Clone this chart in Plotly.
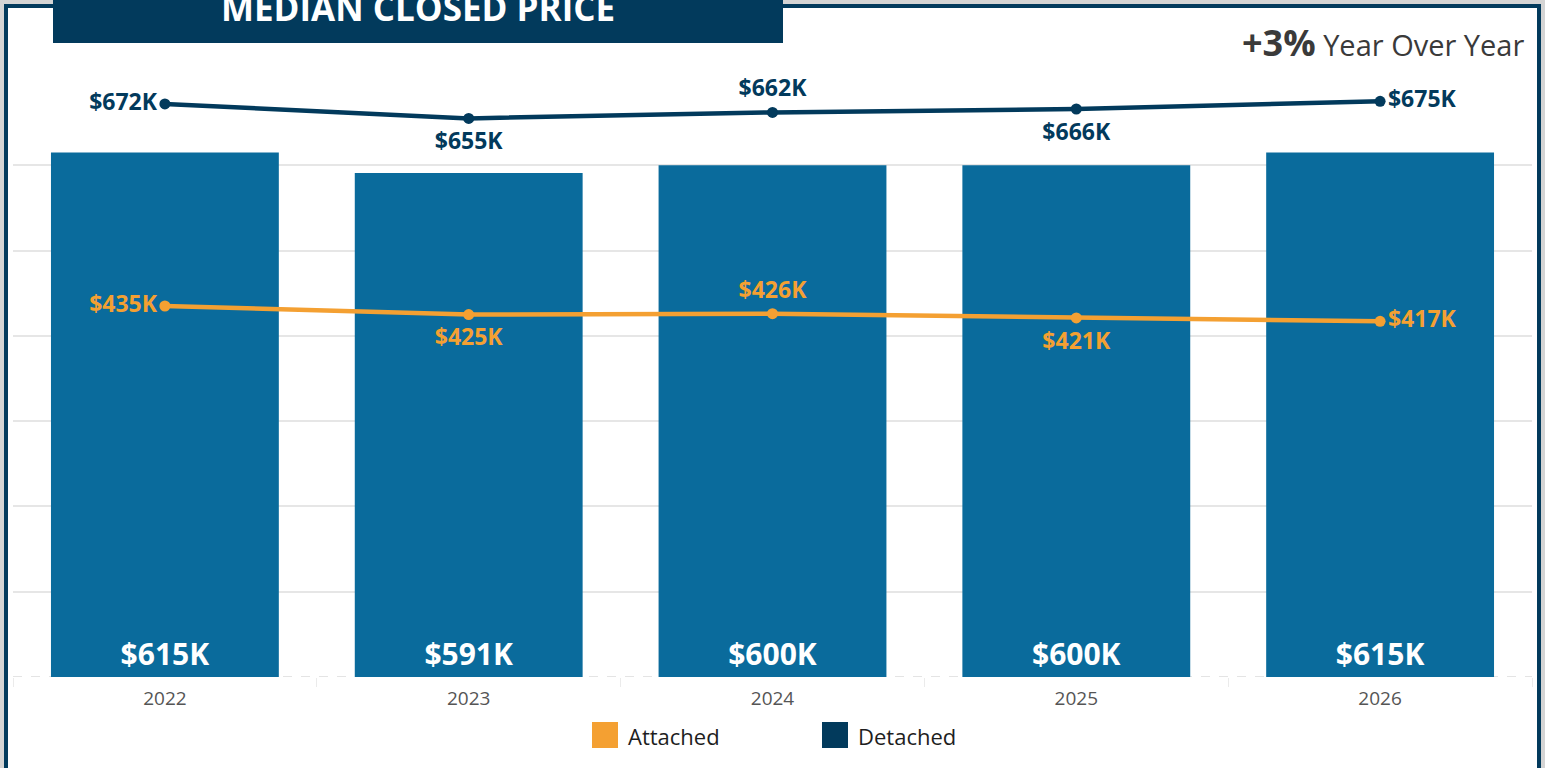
import plotly.graph_objects as go

# ---------------- data ----------------
years = ["2022", "2023", "2024", "2025", "2026"]
total_k = [615, 591, 600, 600, 615]          # bars (median closed price, $K)
detached_k = [672, 655, 662, 666, 675]       # Detached line ($K)
attached_k = [435, 425, 426, 421, 417]       # Attached line ($K)
title_text = "MEDIAN CLOSED PRICE"
yoy_change = "+3%"
yoy_label = "Year Over Year"
legend_names = ["Attached", "Detached"]

# ---------------- style ----------------
W, H = 1545, 768
L, R, T, B = 13, 13, 80, 91
PW, PH = W - L - R, H - T - B
FONT = "Open Sans"
NAVY = "#023a5c"
BAR = "#0a6b9c"
ORANGE = "#f4a032"


def fx(px):
    return (px - L) / PW


def fy(py):
    return (H - B - py) / PH


label_pos = ["middle left", "bottom center", "top center", "bottom center", "middle right"]
label_pad = [11, 20, 15, 20, 11]   # invisible marker sizes that set the label offsets

fig = go.Figure()

fig.add_trace(go.Bar(
    x=years, y=total_k, marker=dict(color=BAR, line=dict(width=0)),
    texttemplate="$%{y}K", textposition="inside", insidetextanchor="start",
    textangle=0, textfont=dict(family=FONT, size=30, color="white", weight=700),
    showlegend=False, hoverinfo="skip",
))

for vals, color, name in [(detached_k, NAVY, legend_names[1]), (attached_k, ORANGE, legend_names[0])]:
    fig.add_trace(go.Scatter(
        x=years, y=vals, name=name, mode="lines+markers",
        line=dict(color=color, width=4.5), marker=dict(color=color, size=11, line=dict(width=0)),
        showlegend=False, hoverinfo="skip",
    ))
    fig.add_trace(go.Scatter(
        x=years, y=vals, name=name + " labels", mode="markers+text",
        marker=dict(color=color, size=label_pad, opacity=0, line=dict(width=0)),
        texttemplate="$%{y}K", textposition=label_pos,
        textfont=dict(family=FONT, size=23, color=color, weight=700),
        cliponaxis=False, showlegend=False, hoverinfo="skip",
    ))

shapes = [
    # white panel with navy frame
    dict(type="rect", xref="paper", yref="paper", x0=fx(6), x1=fx(1539), y0=fy(790), y1=fy(6),
         line=dict(color=NAVY, width=4), fillcolor="white", layer="below"),
    # title banner
    dict(type="rect", xref="paper", yref="paper", x0=fx(53), x1=fx(783), y0=fy(43), y1=fy(-5),
         line=dict(width=0), fillcolor=NAVY, layer="below"),
    # dashed baseline
    dict(type="line", xref="paper", yref="y", x0=0, x1=1, y0=0, y1=0,
         line=dict(color="#c8c8c8", width=1, dash="dash"), layer="below"),
    # legend swatches
    dict(type="rect", xref="paper", yref="paper", x0=fx(592), x1=fx(618), y0=fy(748), y1=fy(722),
         line=dict(width=0), fillcolor=ORANGE, layer="above"),
    dict(type="rect", xref="paper", yref="paper", x0=fx(822), x1=fx(848), y0=fy(748), y1=fy(722),
         line=dict(width=0), fillcolor=NAVY, layer="above"),
]

annotations = [
    dict(text=f"<b>{title_text}</b>", xref="paper", yref="paper", x=fx(418), y=fy(7),
         xanchor="center", yanchor="middle", showarrow=False,
         font=dict(family=FONT, size=35, color="white")),
    dict(text=f"<span style='font-size:36px'><b>{yoy_change}</b></span> {yoy_label}",
         xref="paper", yref="paper", x=fx(1526), y=fy(42), xanchor="right", yanchor="middle",
         showarrow=False, font=dict(family=FONT, size=29, color="#3a3a3a")),
    dict(text=legend_names[0], xref="paper", yref="paper", x=fx(626), y=fy(736),
         xanchor="left", yanchor="middle", showarrow=False,
         font=dict(family=FONT, size=22, color="#1e1e1e")),
    dict(text=legend_names[1], xref="paper", yref="paper", x=fx(856), y=fy(736),
         xanchor="left", yanchor="middle", showarrow=False,
         font=dict(family=FONT, size=22, color="#1e1e1e")),
]

fig.update_layout(
    width=W, height=H, margin=dict(l=L, r=R, t=T, b=B, pad=0),
    paper_bgcolor="#d4d4d4", plot_bgcolor="rgba(0,0,0,0)",
    bargap=0.25, showlegend=False, shapes=shapes, annotations=annotations,
    font=dict(family=FONT),
    xaxis=dict(type="category", showgrid=False, zeroline=False, showline=False,
               ticks="outside", tickson="boundaries", ticklen=9, tickcolor="#ebebeb", tickwidth=1,
               ticklabelstandoff=8,
               tickfont=dict(family=FONT, size=19, color="#555555")),
    yaxis=dict(range=[0, 700], dtick=100, showgrid=True, gridcolor="#e6e6e6", gridwidth=1.5,
               zeroline=False, showticklabels=False, ticks=""),
)

fig.write_html("out.html", config={"displayModeBar": False},
               post_script="document.body.style.margin='0';document.body.style.overflow='hidden';")
